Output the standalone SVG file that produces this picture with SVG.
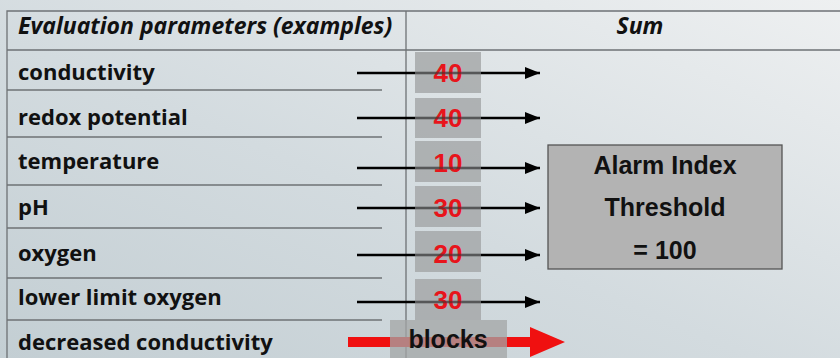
<svg xmlns="http://www.w3.org/2000/svg" width="840" height="358" viewBox="0 0 840 358">
<defs>
<linearGradient id="bg" x1="0" y1="1" x2="1" y2="0">
<stop offset="0" stop-color="#c3ced3"/>
<stop offset="0.45" stop-color="#d3dbdf"/>
<stop offset="1" stop-color="#eef0f1"/>
</linearGradient>
<marker id="ah" markerWidth="15" markerHeight="12" refX="15" refY="6" orient="auto" markerUnits="userSpaceOnUse">
<path d="M0,0 L15,6 L0,12 Z" fill="#000"/>
</marker>
<style>
.lbl{font-family:"Open Sans","Noto Sans",sans-serif;font-weight:bold;font-size:22px;fill:#111}
.hdr{font-family:"Open Sans","Noto Sans",sans-serif;font-weight:bold;font-style:italic;font-size:23px;fill:#111}
.grid{stroke:#6e7275;stroke-width:1.3;fill:none}
.row{stroke:#6e7275;stroke-width:1.3}
.box{fill:#a3a5a6;fill-opacity:0.8}
.num{font-family:"Liberation Sans",Arial,sans-serif;font-weight:bold;font-size:26px;fill:#e8141b;text-anchor:middle}
.arr{stroke:#000;stroke-width:2.5;marker-end:url(#ah)}
.thr{stroke:#333;stroke-width:2.5;stroke-opacity:0.55}
.big{font-family:"Liberation Sans",Arial,sans-serif;font-weight:bold;font-size:25px;fill:#111;text-anchor:middle}
</style>
</defs>
<rect width="840" height="358" fill="url(#bg)"/>
<g id="table">
<path class="grid" d="M840,11 H7 V358 M7,50 H840 M406,11 V358"/>
<line class="row" x1="7" y1="90" x2="382" y2="90"/>
<line class="row" x1="7" y1="137" x2="382" y2="137"/>
<line class="row" x1="7" y1="185" x2="382" y2="185"/>
<line class="row" x1="7" y1="228" x2="382" y2="228"/>
<line class="row" x1="7" y1="278" x2="382" y2="278"/>
<line class="row" x1="7" y1="320" x2="382" y2="320"/>
<text class="hdr" x="18" y="34">Evaluation parameters (examples)</text>
<text class="hdr" x="640" y="34" text-anchor="middle">Sum</text>
</g>
<g id="labels">
<text class="lbl" x="18" y="80">conductivity</text>
<text class="lbl" x="18" y="125">redox potential</text>
<text class="lbl" x="18" y="169">temperature</text>
<text class="lbl" x="18" y="215">pH</text>
<text class="lbl" x="18" y="261">oxygen</text>
<text class="lbl" x="18" y="305">lower limit oxygen</text>
<text class="lbl" x="18" y="350">decreased conductivity</text>
</g>
<g id="connectors">
<line class="arr" x1="357" y1="73" x2="540" y2="73"/>
<line class="arr" x1="357" y1="118" x2="540" y2="118"/>
<line class="arr" x1="357" y1="168" x2="540" y2="168"/>
<line class="arr" x1="357" y1="208" x2="540" y2="208"/>
<line class="arr" x1="357" y1="255" x2="540" y2="255"/>
<line class="arr" x1="357" y1="302" x2="540" y2="302"/>
<path d="M348,337 H530 V327 L565,342 L530,357 V347 H348 Z" fill="#f01010"/>
</g>
<g id="w1"><rect class="box" x="415" y="52" width="66" height="41"/><text class="num" x="448" y="82">40</text><line class="thr" x1="415" y1="73" x2="481" y2="73"/></g>
<g id="w2"><rect class="box" x="415" y="98" width="66" height="40"/><text class="num" x="448" y="127">40</text><line class="thr" x1="415" y1="118" x2="481" y2="118"/></g>
<g id="w3"><rect class="box" x="415" y="141" width="66" height="41"/><text class="num" x="448" y="172">10</text><line class="thr" x1="415" y1="168" x2="481" y2="168"/></g>
<g id="w4"><rect class="box" x="415" y="186" width="66" height="41"/><text class="num" x="448" y="217">30</text><line class="thr" x1="415" y1="208" x2="481" y2="208"/></g>
<g id="w5"><rect class="box" x="415" y="231" width="66" height="41"/><text class="num" x="448" y="263">20</text><line class="thr" x1="415" y1="255" x2="481" y2="255"/></g>
<g id="w6"><rect class="box" x="415" y="279" width="66" height="41"/><text class="num" x="448" y="309">30</text><line class="thr" x1="415" y1="302" x2="481" y2="302"/></g>
<g id="blocks"><rect x="390" y="320" width="117" height="38" fill="#a3a5a6" fill-opacity="0.75"/><text class="big" x="448" y="348">blocks</text></g>
<g id="alarm">
<rect x="548" y="145" width="234" height="124" fill="#b3b3b3" stroke="#555" stroke-width="1.3"/>
<text class="big" x="665" y="174">Alarm Index</text>
<text class="big" x="665" y="216">Threshold</text>
<text class="big" x="665" y="259">= 100</text>
</g>
</svg>
